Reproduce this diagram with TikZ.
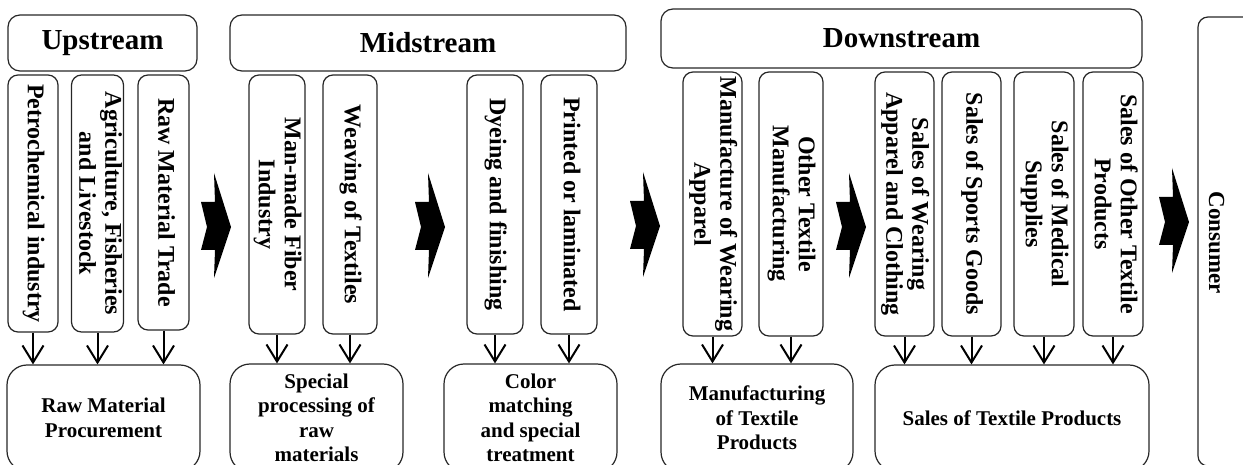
\documentclass[tikz,border=0pt]{standalone}
\usepackage{fontspec}
\setmainfont{Liberation Serif}
\usetikzlibrary{arrows.meta}
\newcommand{\vtext}[1]{\rotatebox{-90}{\begin{tabular}{@{}c@{}}#1\end{tabular}}}
\begin{document}
\begin{tikzpicture}[x=1pt,y=-1pt,
  hbox/.style={draw=black!85, line width=1.2pt, rounded corners=12pt, font=\fontsize{29}{31}\selectfont\bfseries},
  vbox/.style={draw=black!85, line width=1.2pt, rounded corners=10pt, inner sep=0pt, font=\fontsize{24}{26}\selectfont\bfseries},
  pbox/.style={draw=black!85, line width=1.2pt, rounded corners=20pt, align=center, inner sep=2pt, font=\fontsize{21}{24.5}\selectfont\bfseries},
  arr/.style={line width=2pt, -{Straight Barb[length=17pt,width=21pt]}}]
\useasboundingbox (0,0) rectangle (1243,465);
\clip (0,0) rectangle (1243,465);
% stage headers
\node (up) [hbox, minimum width=189pt, minimum height=56pt] at (102.5,43) {Upstream};
\node (mid) [hbox, minimum width=396pt, minimum height=56pt] at (428,43) {Midstream};
\node (down) [hbox, minimum width=481pt, minimum height=59pt] at (901.5,38.5) {Downstream};
\node (consumer) [vbox, minimum width=64pt, minimum height=449pt] at (1230,241.5) {};
\node (consumertext) [font=\fontsize{23}{25}\selectfont\bfseries] at (1214,243) {\vtext{Consumer}};
% industries
\node (petro) [vbox, minimum width=50pt, minimum height=257pt] at (33,203.5) {\vtext{Petrochemical industry}};
\node (agri) [vbox, minimum width=51pt, minimum height=257pt] at (97.5,203.5) {\vtext{Agriculture, Fisheries\\and Livestock}};
\node (trade) [vbox, minimum width=51pt, minimum height=255pt] at (163.5,202.5) {\vtext{Raw Material Trade}};
\node (fiber) [vbox, minimum width=56pt, minimum height=259pt] at (277,204.5) {\vtext{Man-made Fiber\\Industry}};
\node (weave) [vbox, minimum width=54pt, minimum height=259pt] at (350,204.5) {\vtext{Weaving of Textiles}};
\node (dye) [vbox, minimum width=56pt, minimum height=259pt] at (495,204.5) {\vtext{Dyeing and finishing}};
\node (print) [vbox, minimum width=56pt, minimum height=259pt] at (569,204.5) {\vtext{Printed or laminated}};
\node (apparel) [vbox, minimum width=59pt, minimum height=264pt] at (712.5,204) {\vtext{Manufacture of Wearing\\Apparel}};
\node (othermfg) [vbox, minimum width=64pt, minimum height=264pt] at (791,204) {\vtext{Other Textile\\Manufacturing}};
\node (salesapp) [vbox, minimum width=59pt, minimum height=264pt] at (904.5,204) {\vtext{Sales of Wearing\\Apparel and Clothing}};
\node (sports) [vbox, minimum width=59pt, minimum height=264pt] at (971.5,204) {\vtext{Sales of Sports Goods}};
\node (medical) [vbox, minimum width=60pt, minimum height=264pt] at (1044,204) {\vtext{Sales of Medical\\Supplies}};
\node (otherprod) [vbox, minimum width=60pt, minimum height=264pt] at (1113,204) {\vtext{Sales of Other Textile\\Products}};
% processes
\node (rawproc) [pbox, minimum width=193pt, minimum height=106pt] at (103.5,418) {Raw Material\\Procurement};
\node (special) [pbox, minimum width=173pt, minimum height=108pt] at (316.5,418) {Special\\processing of\\raw\\materials};
\node (color) [pbox, minimum width=173pt, minimum height=108pt] at (530.5,418) {Color\\matching\\and special\\treatment};
\node (mfgprod) [pbox, minimum width=192pt, minimum height=108pt] at (757,418) {Manufacturing\\of Textile\\Products};
\node (salesprod) [pbox, minimum width=274pt, minimum height=106pt] at (1012,418) {Sales of Textile Products};
\foreach \a/\b in {petro/rawproc, agri/rawproc, trade/rawproc, fiber/special, weave/special,
  dye/color, print/color, apparel/mfgprod, othermfg/mfgprod,
  salesapp/salesprod, sports/salesprod, medical/salesprod, otherprod/salesprod}
  \draw[arr] (\a.south) -- (\a.south |- \b.north);
% flow chevrons
\foreach \x/\y in {231/227, 445/227, 660/226, 866/227, 1189/222}
  \fill (\x,\y) -- ++(-17,-54) -- ++(1,29) -- ++(-14,0) -- ++(6,25) -- ++(-6,23) -- ++(14,0) -- ++(-1,28) -- cycle;
\end{tikzpicture}
\end{document}
